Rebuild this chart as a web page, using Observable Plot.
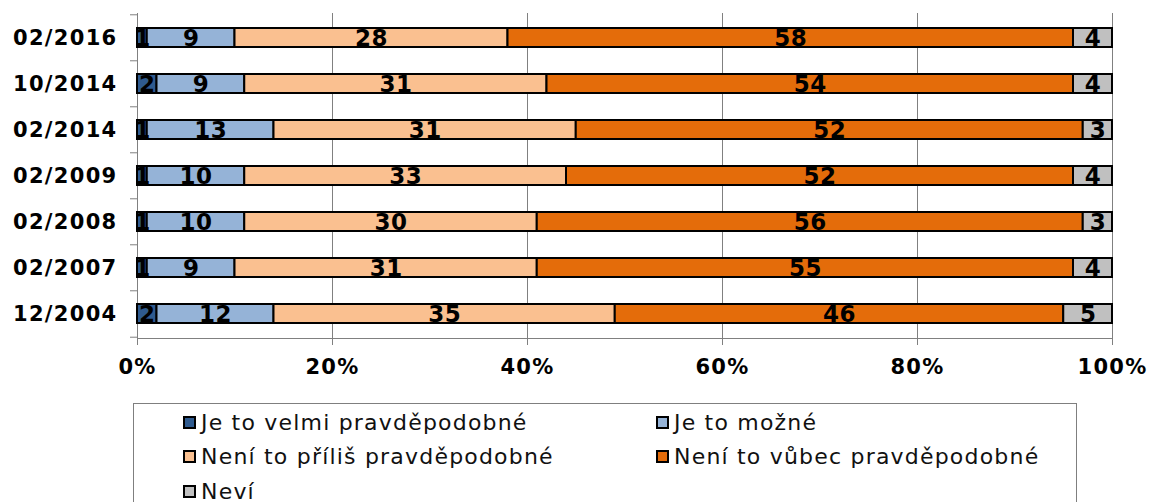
<!DOCTYPE html>
<html>
<head>
<meta charset="utf-8">
<script src="https://cdn.jsdelivr.net/npm/d3@7"></script>
<script src="https://cdn.jsdelivr.net/npm/@observablehq/plot@0.6"></script>
<style>
  html, body { margin: 0; padding: 0; background: #fff; }
  #wrap { position: relative; width: 1152px; height: 502px; overflow: hidden; }
  #legend { position: absolute; left: 133px; top: 403px; width: 944px; height: 120px;
    border: 1px solid #7f7f7f; box-sizing: border-box; font-family: "DejaVu Sans", Verdana, sans-serif; font-size: 22px; letter-spacing: 1.2px; color: #111; }
  .item { position: absolute; display: flex; align-items: center; height: 24px; white-space: nowrap; }
  .sw { width: 13px; height: 13px; border: 2px solid #000; box-sizing: border-box; margin-right: 5px; }
  .chart g[aria-label="y-axis tick label"] text,
  .chart g[aria-label="x-axis tick label"] text { letter-spacing: 1.3px; }
  .chart g[aria-label="text"] text { letter-spacing: 0.5px; }
</style>
</head>
<body>
<div id="wrap">
  <div id="chart"></div>
  <div id="legend"></div>
</div>
<script>
const dates = ["02/2016", "10/2014", "02/2014", "02/2009", "02/2008", "02/2007", "12/2004"];
const categories = ["Je to velmi pravděpodobné", "Je to možné", "Není to příliš pravděpodobné", "Není to vůbec pravděpodobné", "Neví"];
const colors = ["#2f5b8f", "#95b3d7", "#fac090", "#e46c0a", "#c0c0c0"];
const veryLikely   = [1, 2, 1, 1, 1, 1, 2];
const possible     = [9, 9, 13, 10, 10, 9, 12];
const notVery      = [28, 31, 31, 33, 30, 31, 35];
const notAtAll     = [58, 54, 52, 52, 56, 55, 46];
const dontKnow     = [4, 4, 3, 4, 3, 4, 5];
const xTicks = [0, 20, 40, 60, 80, 100];
const xTickLabels = ["0%", "20%", "40%", "60%", "80%", "100%"];

const series = [veryLikely, possible, notVery, notAtAll, dontKnow];
const data = [];
dates.forEach((d, i) => series.forEach((s, k) => data.push({date: d, cat: categories[k], value: s[i]})));

const marginTop = 13, marginBottom = 64, height = 402;
const step = (height - marginTop - marginBottom) / dates.length;
const font = "'DejaVu Sans', Verdana, sans-serif";

const chart = Plot.plot({
  width: 1152,
  height,
  marginLeft: 137,
  marginRight: 40,
  marginTop,
  marginBottom,
  className: "chart",
  style: {fontFamily: font, fontSize: "20px", fontWeight: "bold", color: "#000", background: "#fff"},
  x: {domain: [0, 100], axis: null, label: null},
  y: {domain: dates, paddingInner: 0.58, paddingOuter: 0.29, axis: null, label: null},
  color: {domain: categories, range: colors},
  marks: [
    Plot.gridX(xTicks.slice(1), {stroke: "#808080", strokeOpacity: 1, strokeWidth: 1}),
    Plot.axisX(xTicks, {tickSize: 7, tickPadding: 14, stroke: "#808080", label: null, tickFormat: (d) => xTickLabels[xTicks.indexOf(d)], fontWeight: "bold", fontSize: 21, fill: "#000"}),
    Plot.axisY({tickSize: 7, text: null, label: null, dy: -step / 2, stroke: "#808080"}),
    Plot.axisY({ticks: [dates[dates.length - 1]], tickSize: 7, text: null, label: null, dy: step / 2, stroke: "#808080"}),
    Plot.axisY({tickSize: 0, tickPadding: 20, label: null, fontWeight: "bold", fontSize: 21, fill: "#000"}),
    Plot.frame({anchor: "bottom", stroke: "#808080"}),
    Plot.frame({anchor: "left", stroke: "#808080"}),
    Plot.barX(data, Plot.stackX({x: "value", y: "date", fill: "cat", order: categories, stroke: "#000", strokeWidth: 2})),
    Plot.text(data, Plot.stackX({x: "value", y: "date", z: "cat", order: categories, text: "value", fill: "#000", fontSize: 23, fontWeight: "bold", dy: 1}))
  ]
});
document.getElementById("chart").appendChild(chart);

const legend = document.getElementById("legend");
const pos = [[49, 6], [522, 6], [49, 40.5], [522, 40.5], [49, 75]];
categories.forEach((c, i) => {
  const it = document.createElement("div");
  it.className = "item";
  it.style.left = pos[i][0] + "px";
  it.style.top = pos[i][1] + "px";
  const sw = document.createElement("span");
  sw.className = "sw";
  sw.style.background = colors[i];
  it.appendChild(sw);
  it.appendChild(document.createTextNode(c));
  legend.appendChild(it);
});
</script>
</body>
</html>
